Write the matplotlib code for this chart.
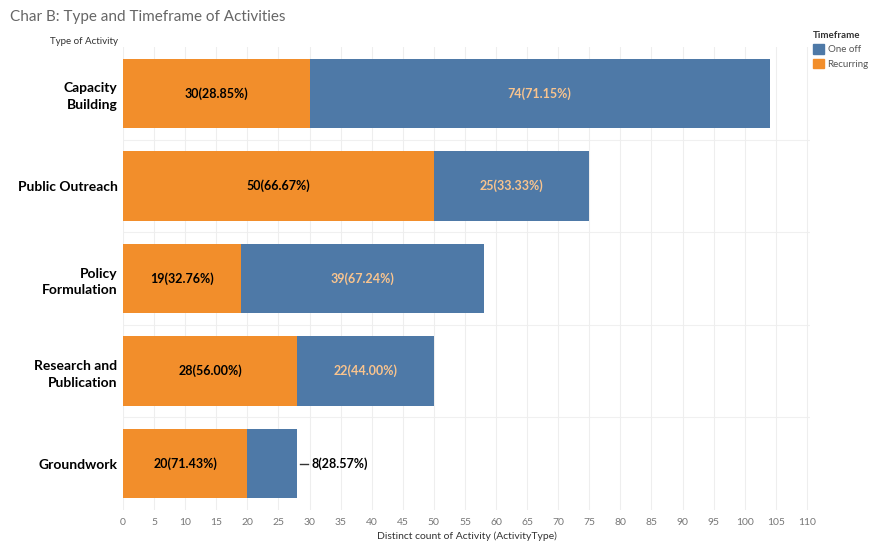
import matplotlib
matplotlib.use("Agg")
import matplotlib.pyplot as plt
from matplotlib.patches import Patch

plt.rcParams['font.family'] = ['Lato', 'DejaVu Sans']

categories = ["Capacity\nBuilding", "Public Outreach", "Policy\nFormulation", "Research and\nPublication", "Groundwork"]
recurring = [30, 50, 19, 28, 20]
one_off = [74, 25, 39, 22, 8]
recurring_lbl = ["30(28.85%)", "50(66.67%)", "19(32.76%)", "28(56.00%)", "20(71.43%)"]
one_off_lbl = ["74(71.15%)", "25(33.33%)", "39(67.24%)", "22(44.00%)", "8(28.57%)"]
xticks = list(range(0, 111, 5))

BLUE = "#4e79a7"
ORANGE = "#f28e2b"

fig = plt.figure(figsize=(8.7, 5.43), dpi=100)
ax = fig.add_axes([123/870, 1 - 510/543, (810-123)/870, (510-47)/543])

y = list(range(len(categories)))
ax.barh(y, recurring, color=ORANGE, height=0.75, zorder=2)
ax.barh(y, one_off, left=recurring, color=BLUE, height=0.75, zorder=2)

for i in y:
    ax.text(recurring[i] / 2, i, recurring_lbl[i], ha='center', va='center',
            fontsize=9, fontweight='bold', color='black', zorder=3)
    if one_off[i] >= 15:
        ax.text(recurring[i] + one_off[i] / 2, i, one_off_lbl[i], ha='center', va='center',
                fontsize=9, fontweight='bold', color='#f9c48e', zorder=3)
    else:
        end = recurring[i] + one_off[i]
        ax.plot([end + 0.4, end + 1.8], [i, i], color='#333333', lw=1, zorder=3)
        ax.text(end + 2.3, i, one_off_lbl[i], ha='left', va='center',
                fontsize=9, fontweight='bold', color='black', zorder=3)

ax.set_ylim(len(categories) - 0.5, -0.5)
ax.set_xlim(0, 110.5)
ax.set_yticks(y)
ax.set_yticklabels(categories, fontsize=10, fontweight='bold', linespacing=1.45)
ax.tick_params(axis='y', length=0, pad=4)
ax.set_xticks(xticks)
ax.set_xticklabels([str(t) for t in xticks], fontsize=7.5, color='#777777')
ax.tick_params(axis='x', length=0, pad=6)
ax.grid(axis='x', color='#eeeeee', lw=0.8, zorder=0)
for s in ax.spines.values():
    s.set_visible(False)
for b in [0.5, 1.5, 2.5, 3.5]:
    ax.axhline(b, color='#f0f0f0', lw=0.8, zorder=1)

ax.set_xlabel("Distinct count of Activity (ActivityType)", fontsize=7.5, color='#333333', labelpad=3)

fig.text(10/870, 1 - 17/543, "Char B: Type and Timeframe of Activities", fontsize=11,
         color='#666666', va='center', ha='left')
fig.text(118/870, 1 - 41/543, "Type of Activity", fontsize=7, color='#333333',
         va='center', ha='right')

handles = [Patch(color=BLUE, label='One off'), Patch(color=ORANGE, label='Recurring')]
leg = fig.legend(handles=handles, title='Timeframe', loc='upper left',
                 bbox_to_anchor=(813/870, 1 - 31/543), frameon=False,
                 fontsize=7, title_fontsize=7, handlelength=1.1, handleheight=1.1,
                 handletextpad=0.4, labelspacing=0.45, borderpad=0, borderaxespad=0,
                 alignment='left')
leg.get_title().set_fontweight('bold')
leg.get_title().set_color('#333333')
for t in leg.get_texts():
    t.set_color('#555555')

fig.savefig("out.png", dpi=100)
